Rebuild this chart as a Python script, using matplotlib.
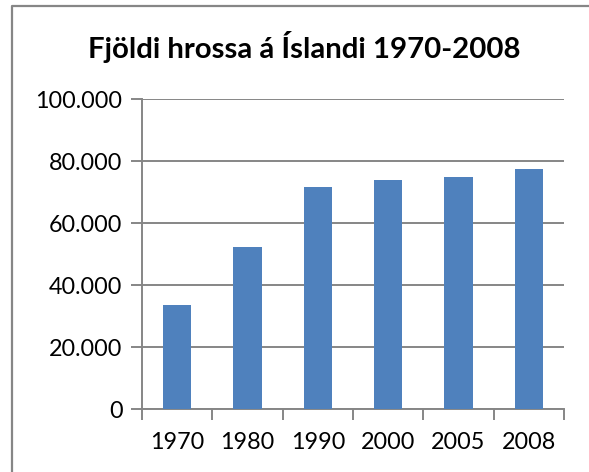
import matplotlib.pyplot as plt
from matplotlib.lines import Line2D
from matplotlib.ticker import FuncFormatter

years = ["1970", "1980", "1990", "2000", "2005", "2008"]
horses = [33500, 52400, 71800, 73900, 74900, 77500]

plt.rcParams['font.family'] = ['Lato', 'DejaVu Sans']

fig = plt.figure(figsize=(5.89, 4.72), dpi=100)
ax = fig.add_axes([142/589, 1 - 409.3/472, (564 - 142)/589, (409.3 - 99)/472])

grey = "#868686"
x = range(len(years))
ax.bar(x, horses, width=0.4, color="#4F81BD", zorder=3)

ax.set_ylim(0, 100000)
ax.set_xlim(-0.5, len(years) - 0.5)
ax.set_yticks(range(0, 100001, 20000))
ax.yaxis.set_major_formatter(FuncFormatter(lambda v, p: f"{int(v):,}".replace(",", ".")))
ax.set_xticks(list(x))
ax.set_xticklabels(years)
ax.set_xticks([i - 0.5 for i in range(len(years) + 1)], minor=True)

ax.grid(axis="y", color=grey, linewidth=1.4, zorder=0)
for s in ["top", "right"]:
    ax.spines[s].set_visible(False)
for s in ["left", "bottom"]:
    ax.spines[s].set_color(grey)
    ax.spines[s].set_linewidth(1.4)

ax.tick_params(axis="y", length=8, width=1.4, color=grey, labelsize=16.8, pad=6)
ax.tick_params(axis="x", which="major", length=0, labelsize=16.8, pad=16)
ax.tick_params(axis="x", which="minor", length=8, width=1.4, color=grey)

fig.text(304/589, 1 - 47/472, "Fjöldi hrossa á Íslandi 1970-2008",
         ha="center", va="center", fontsize=21.2, fontweight="bold")

# chart frame (only top/left edges visible in the crop)
fig.add_artist(Line2D([12/589, 12/589, 1], [0, 1 - 6/472, 1 - 6/472],
                      transform=fig.transFigure, color=grey, linewidth=1.6))

fig.savefig("out.png", dpi=100)
